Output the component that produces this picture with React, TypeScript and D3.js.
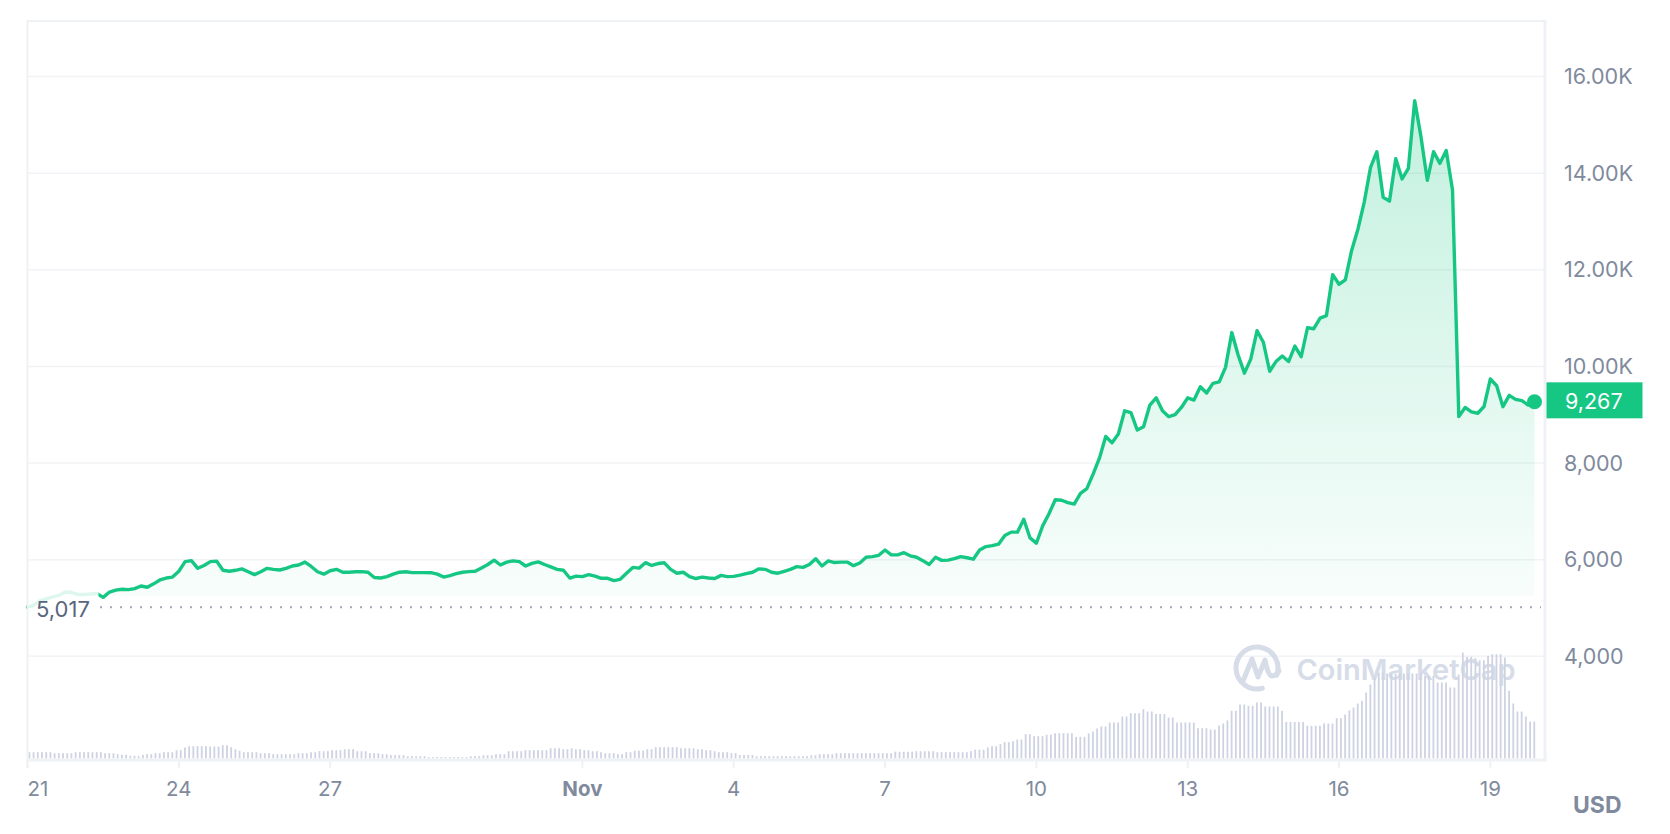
import React from "react";
import * as d3 from "d3";

const W = 1670;
const H = 834;

// ---- data ----
const PRICE_START = Date.UTC(2024, 9, 21, 0, 0, 0);
const PRICE_STEP_HOURS = 3;
const prices = [
  5017, 5060, 5150, 5190, 5230, 5260, 5330, 5320, 5280, 5280, 5290, 5300,
  5220, 5330, 5370, 5387, 5380, 5400, 5455, 5430, 5500, 5580, 5620, 5640,
  5760, 5960, 5980, 5821, 5880, 5960, 5970, 5780, 5760, 5780, 5810, 5750,
  5690, 5750, 5820, 5800, 5786, 5820, 5869, 5890, 5950, 5860, 5750, 5700,
  5770, 5800, 5740, 5740, 5750, 5752, 5740, 5630, 5620, 5650, 5700, 5740,
  5750, 5731, 5731, 5731, 5730, 5700, 5640, 5670, 5710, 5740, 5752, 5760,
  5830, 5900, 5990, 5890, 5950, 5975, 5960, 5869, 5924, 5955, 5900, 5850,
  5800, 5780, 5620, 5660, 5650, 5690, 5660, 5614, 5614, 5566, 5593, 5720,
  5840, 5825, 5938, 5880, 5920, 5935, 5800, 5720, 5740, 5650, 5610, 5640,
  5620, 5610, 5675, 5650, 5655, 5680, 5710, 5740, 5810, 5800, 5740, 5720,
  5760, 5800, 5855, 5840, 5900, 6020, 5869, 5975, 5940, 5950, 5950, 5876,
  5930, 6050, 6062, 6090, 6200, 6100, 6100, 6145, 6080, 6050, 5980, 5900,
  6050, 5985, 5990, 6020, 6062, 6040, 6010, 6200, 6270, 6290, 6320, 6500,
  6570, 6570, 6835, 6450, 6340, 6700, 6950, 7240, 7230, 7180, 7150, 7373,
  7470, 7770, 8100, 8550, 8420, 8600, 9080, 9042, 8683, 8750, 9200, 9350,
  9080, 8960, 9000, 9150, 9350, 9304, 9580, 9450, 9649, 9680, 9980, 10700,
  10235, 9860, 10150, 10739, 10500, 9900, 10100, 10215, 10100, 10420, 10200, 10800,
  10780, 11000, 11050, 11900, 11700, 11790, 12400, 12840, 13400, 14119, 14443, 13500,
  13420, 14300, 13880, 14100, 15500, 14750, 13850, 14443, 14202, 14470, 13650, 8960,
  9150, 9060, 9030, 9170, 9740, 9600, 9166, 9400, 9318, 9290, 9200, 9267,
];

const VOLUME_START = Date.UTC(2024, 9, 21, 0, 0, 0);
const VOLUME_STEP_HOURS = 2;
const volumes = [
  6.3, 6.3, 6.3, 6.3, 6.3, 6.3, 5.3, 5.3, 5.3, 5.3, 5.3, 6.3, 6.3, 6.3, 6.3, 6.3, 6.3, 6.3,
  5.3, 5.3, 5.3, 4.3, 3.7, 3.7, 2.7, 2.7, 2.3, 3.7, 4.3, 4.3, 5.3, 5.3, 6.3, 6.3, 6.3, 8.3, 8.3, 11,
  12.3, 12.3, 12.3, 12.3, 12.3, 12, 12, 12, 13.3, 13.3, 11.3, 9.3, 7.7, 6.3, 6.3, 6.3, 6.3, 5.3, 5.3, 5.3,
  4.3, 4.3, 4.3, 4.3, 4.3, 4.3, 5.3, 5.3, 5.3, 6.3, 6.3, 7.3, 7.3, 7.3, 8.3, 8.3, 8.3, 9.3, 9.3, 9.3, 7.3, 7.3, 7.3,
  5.3, 5.3, 5.3, 4.3, 4.3, 3.3, 3.3, 3.3, 3.3, 2.3, 2.3, 2.3, 2.3, 2.3, 1.3, 1.3, 1.3, 1.3, 1.3, 1.3, 1.3, 1.3, 1.3, 1.3,
  2.3, 2.3, 2.3, 3.3, 3.3, 3.3, 4.3, 4.3, 4.3, 7.3, 7.3, 7.3, 7.3, 8.3, 8.3, 8.3, 8.3, 8.3, 8.3,
  10.3, 10.3, 10.3, 9.3, 9.3, 10.3, 9.3, 9.3, 8.3, 8.3, 7.3, 7.3, 6.3, 5.3, 5.3, 5.3, 4.3, 4.3, 6.3, 6.3,
  7.8, 7.8, 7.8, 9.3, 9.3, 11.3, 11.3, 11.3, 11.3, 11.3, 11.3, 10.3, 10.3, 10.3, 10.3, 9.3, 9.3, 8.3, 8.3, 7.3, 6.3, 6.3, 6.3, 5.3, 5.3,
  3.5, 3.5, 3.5, 3.5, 2.3, 2.3, 2.3, 2.3, 2.3, 2.3, 2.3, 2.3, 2.3, 2.3, 2.3, 2.3, 2.3, 3.3, 3.3, 4.3, 4.3, 4.3, 4.3,
  5.3, 5.3, 5.3, 5.3, 5.3, 5.3, 5.3, 5.3, 5.3, 5.3, 5.3, 5.3, 5.3, 5.3,
  6.8, 6.8, 6.8, 6.8, 6.8, 7.3, 7.3, 7.3, 7.3, 7.3, 6.3, 6.3, 6.3, 6.3, 6.3, 6.3, 6.3, 6.3, 7.3, 8.8, 8.8, 8.8, 11, 12.3, 12.3, 14.3, 16.3, 16.3, 17.3, 19, 19,
  24.3, 24.3, 22.3, 22.3, 22.3, 23.7, 23.7, 25.3, 25.3, 25.3, 25.3, 25.3, 21.7, 21.7, 21.7, 25, 27, 30, 32, 32, 36, 36, 36, 42, 42,
  45.3, 45.3, 45.3, 49.3, 47, 47, 44.5, 44.5, 44.5, 41, 41, 36, 36, 36, 36, 36, 30.3, 30.3, 30.3, 29, 29, 33, 35, 38, 47.7, 47.7,
  54, 54, 52.7, 52.7, 56, 56, 52, 52, 52, 52, 47.7, 36.5, 36.5, 36.5, 36.5, 36.5, 32.7, 32.7, 32.7, 32.7, 35, 35, 35, 40.3, 40.3, 44, 48, 51, 55, 57.7,
  66, 74, 81, 86, 86, 85, 85, 85, 85, 85, 85, 85, 85, 85, 82.7, 82.7, 82.7, 76, 76, 76, 71, 71,
  84, 106, 101.7, 101.7, 100.3, 98.3, 98.3, 102.7, 104.3, 104.3, 104.3, 101, 67.7, 55, 47, 47, 42, 37, 37,
];

const REFERENCE_PRICE = 5017;
const AREA_FLOOR = 5250;
const LAST_PRICE_LABEL = "9,267";

const yTickValues = [4000, 6000, 8000, 10000, 12000, 14000, 16000];
const yTickLabels = ["4,000", "6,000", "8,000", "10.00K", "12.00K", "14.00K", "16.00K"];

const xTickDates = [
  Date.UTC(2024, 9, 21), Date.UTC(2024, 9, 24), Date.UTC(2024, 9, 27),
  Date.UTC(2024, 10, 1), Date.UTC(2024, 10, 4), Date.UTC(2024, 10, 7),
  Date.UTC(2024, 10, 10), Date.UTC(2024, 10, 13), Date.UTC(2024, 10, 16),
  Date.UTC(2024, 10, 19),
];
const xTickLabels = ["21", "24", "27", "Nov", "4", "7", "10", "13", "16", "19"];
const X_DOMAIN = [Date.UTC(2024, 9, 21, 0), Date.UTC(2024, 10, 20, 2)];

// ---- layout ----
const PLOT_LEFT = 27.5;
const PLOT_RIGHT = 1545;
const PLOT_TOP = 21;
const AXIS_Y = 760;

const GREEN = "#16c784";
const FRAME = "#eff2f5";
const GRID = "#f2f3f6";
const LABEL = "#808a9d";
const FONT = "Inter, 'Noto Sans', sans-serif";

export default function App() {
  const x = d3.scaleUtc().domain(X_DOMAIN).range([PLOT_LEFT, PLOT_RIGHT]);
  const y = d3.scaleLinear().domain([4000, 16000]).range([656.3, 76.5]);
  const yVol = d3.scaleLinear().domain([0, 100]).range([758.5, 658.5]);

  const pricePts = prices.map((v, i) => ({ t: PRICE_START + i * PRICE_STEP_HOURS * 3600e3, v }));
  const volPts = volumes.map((v, i) => ({ t: VOLUME_START + i * VOLUME_STEP_HOURS * 3600e3, v }));

  const line = d3.line<any>().x((d) => x(d.t)).y((d) => y(d.v));
  const area = d3.area<any>().x((d) => x(d.t)).y0(y(AREA_FLOOR)).y1((d) => y(d.v));

  const last = pricePts[pricePts.length - 1];
  const lastX = x(last.t);
  const lastY = y(last.v);
  const refY = y(REFERENCE_PRICE);
  const maxY = y(d3.max(prices) as number);

  // watermark logo geometry
  const lcx = 1257, lcy = 668, lr = 21;
  const pt = (a: number) => [lcx + lr * Math.cos((a * Math.PI) / 180), lcy + lr * Math.sin((a * Math.PI) / 180)];
  const [ax, ay] = pt(75);
  const [bx, by] = pt(20);

  return (
    <svg width={W} height={H} style={{ position: "absolute", left: 0, top: 0, background: "#fff" }}>
      <defs>
        <linearGradient id="areaGrad" gradientUnits="userSpaceOnUse" x1="0" x2="0" y1={maxY} y2={y(AREA_FLOOR)}>
          <stop offset="0" stopColor={GREEN} stopOpacity={0.26} />
          <stop offset="1" stopColor={GREEN} stopOpacity={0.03} />
        </linearGradient>
      </defs>
      <rect x={0} y={0} width={W} height={H} fill="#fff" />

      {/* gridlines */}
      {yTickValues.map((v) => (
        <line key={v} x1={PLOT_LEFT} x2={PLOT_RIGHT} y1={y(v)} y2={y(v)} stroke={GRID} strokeWidth={1.5} />
      ))}

      {/* volume bars */}
      {volPts.map((d, i) => (
        <rect key={i} x={x(d.t) + 1} y={yVol(d.v)} width={1.8} height={yVol(0) - yVol(d.v)} fill="#cdd3e2" />
      ))}

      {/* watermark */}
      <g opacity={0.85}>
        <path d={`M${ax},${ay} A${lr},${lr} 0 1 1 ${bx},${by}`} fill="none" stroke="#cfd6e4" strokeWidth={5} strokeLinecap="round" />
        <path d={`M${lcx - 14},${lcy + 13} L${lcx - 5},${lcy - 9} L${lcx + 1},${lcy + 9} L${lcx + 8},${lcy - 8} Q${lcx + 11},${lcy + 8} ${lcx + 15},${lcy + 8} Q${lcx + 19},${lcy + 8} ${lcx + 22},${lcy + 3}`}
          fill="none" stroke="#cfd6e4" strokeWidth={5} strokeLinejoin="round" strokeLinecap="round" />
        <text x={1296.5} y={679.5} fontFamily={FONT} fontSize={29} fontWeight={600} fill="#cfd6e4">CoinMarketCap</text>
      </g>

      {/* area + line */}
      <path d={area(pricePts) as string} fill="url(#areaGrad)" />
      <line x1={100} x2={1541} y1={refY} y2={refY} stroke="#a1a7bb" strokeWidth={2} strokeDasharray="2 8" />
      <path d={line(pricePts) as string} fill="none" stroke={GREEN} strokeWidth={3.4} strokeLinejoin="round" strokeLinecap="round" />

      {/* reference label */}
      <rect x={PLOT_LEFT} y={refY - 19} width={71} height={37} fill="#fff" opacity={0.86} />
      <text x={36} y={refY + 9.5} fontFamily={FONT} fontSize={22} fill="#58667e">{d3.format(",")(REFERENCE_PRICE)}</text>

      {/* frame */}
      <line x1={PLOT_LEFT - 1} x2={PLOT_RIGHT} y1={PLOT_TOP} y2={PLOT_TOP} stroke={FRAME} strokeWidth={2} />
      <line x1={PLOT_LEFT} x2={PLOT_LEFT} y1={PLOT_TOP - 1} y2={768} stroke={FRAME} strokeWidth={2} />
      <line x1={PLOT_LEFT - 1} x2={PLOT_RIGHT + 1.5} y1={AXIS_Y} y2={AXIS_Y} stroke={FRAME} strokeWidth={3} />
      <line x1={PLOT_RIGHT} x2={PLOT_RIGHT} y1={PLOT_TOP - 1} y2={AXIS_Y + 1.5} stroke={FRAME} strokeWidth={3} />

      {/* x ticks */}
      {xTickDates.map((t, i) => (
        <g key={t}>
          <line x1={x(t)} x2={x(t)} y1={AXIS_Y} y2={768} stroke={FRAME} strokeWidth={2} />
          <text x={x(t)} y={796} textAnchor={i === 0 ? "start" : "middle"} fontFamily={FONT} fontSize={20.5}
            fontWeight={xTickLabels[i] === "Nov" ? 700 : 400} fill={LABEL}>{xTickLabels[i]}</text>
        </g>
      ))}

      {/* y labels */}
      {yTickValues.map((v, i) => (
        <text key={v} x={1564} y={y(v) + 7.5} fontFamily={FONT} fontSize={21.5} fill={LABEL}>{yTickLabels[i]}</text>
      ))}

      {/* last price */}
      <circle cx={lastX} cy={lastY} r={7.5} fill={GREEN} />
      <rect x={PLOT_RIGHT + 1.5} y={lastY - 19.5} width={96} height={36} fill={GREEN} />
      <text x={1565} y={lastY + 7} fontFamily={FONT} fontSize={21.5} fill="#fff">{LAST_PRICE_LABEL}</text>

      <text x={1573} y={813} fontFamily={FONT} fontSize={23} fontWeight={700} fill={LABEL}>USD</text>
    </svg>
  );
}
